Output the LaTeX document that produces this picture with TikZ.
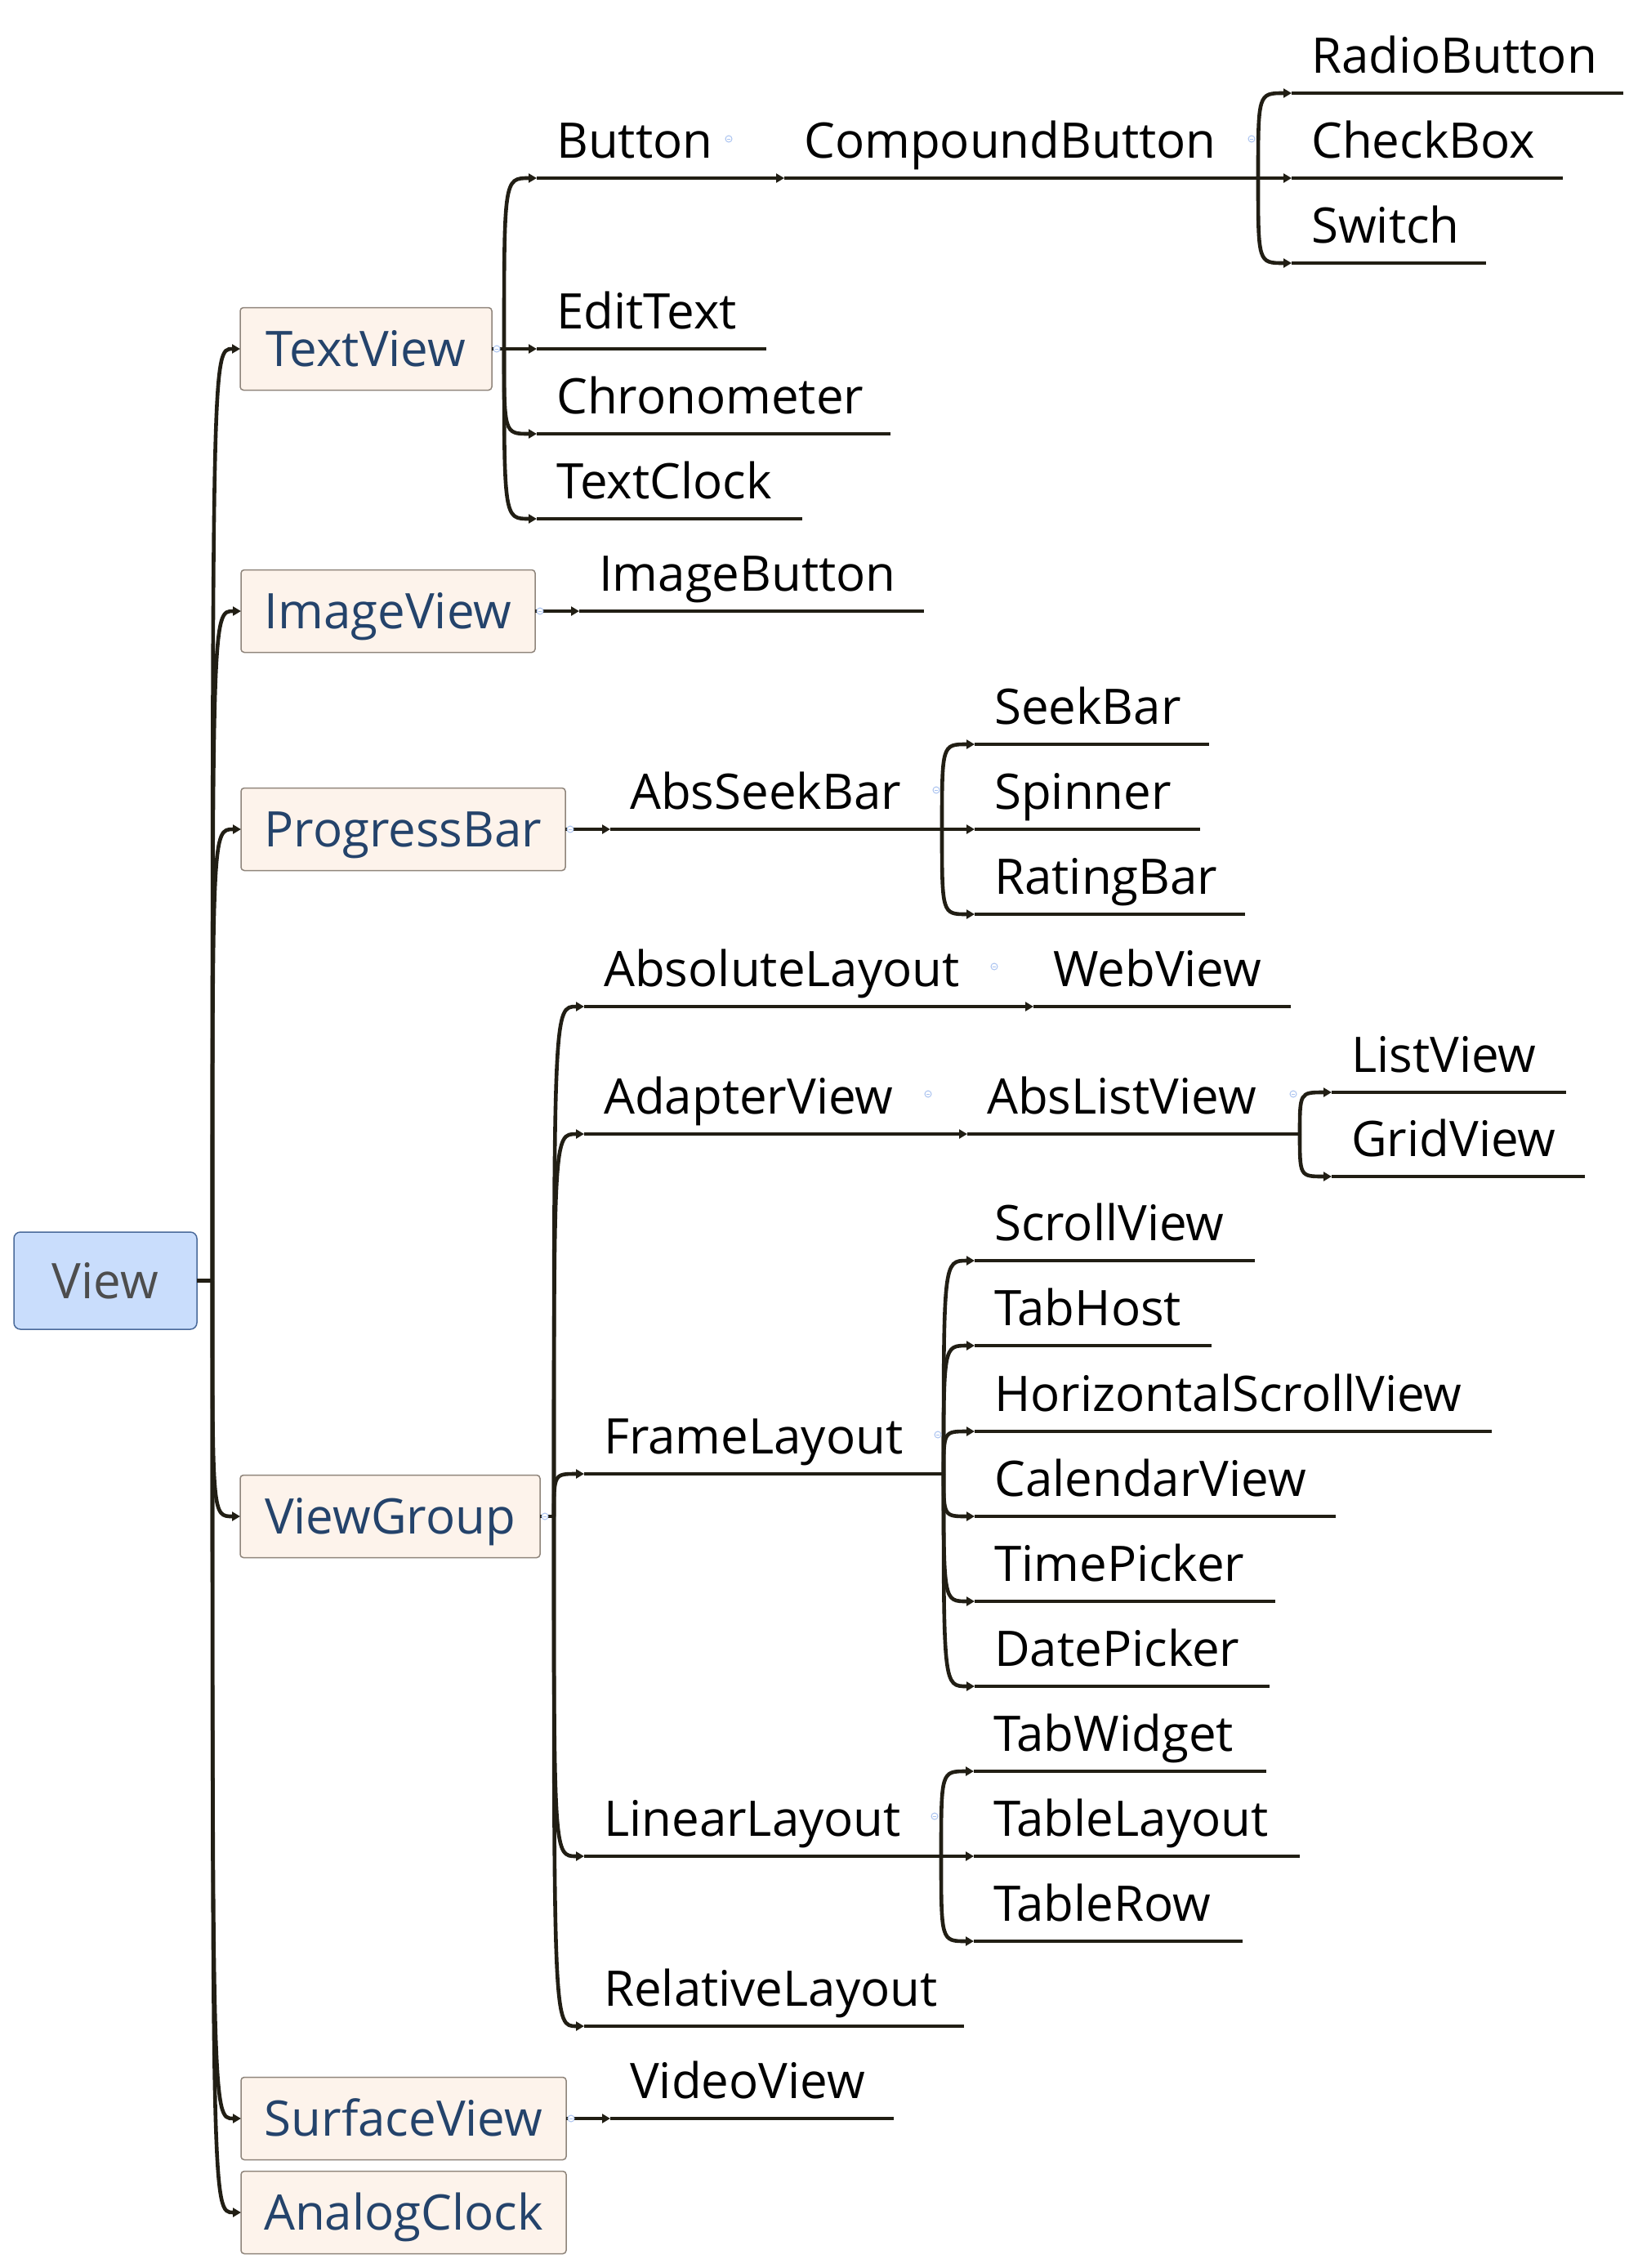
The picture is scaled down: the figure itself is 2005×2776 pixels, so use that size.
\documentclass[tikz,border=0pt]{standalone}
\usepackage{fontspec}
\setmainfont{Open Sans}
\usetikzlibrary{arrows.meta,calc}
\definecolor{linec}{RGB}{33,30,20}
\definecolor{boxfill}{RGB}{253,243,235}
\definecolor{boxdraw}{RGB}{143,133,123}
\definecolor{boxtext}{RGB}{36,67,107}
\definecolor{rootfill}{RGB}{201,221,252}
\definecolor{rootdraw}{RGB}{74,106,155}
\definecolor{roottext}{RGB}{77,77,77}
\definecolor{markc}{RGB}{170,195,240}
\newcommand\mlab[4]{\coordinate (#1-in) at (#2,#3);\node[lbl] (#1) at (#2+24,#3-25) {#4};}
\newcommand\mleaf[5]{\mlab{#1}{#2}{#3}{#5}\coordinate (#1-end) at (#4,#3);\draw[uline] (#1-in) -- (#1-end);}
\newcommand\mbranch[2]{\foreach \n in {#2} {\draw[conn] (#1) .. controls (#1 |- \n-in) .. (\n-in);}}
\begin{document}
\begin{tikzpicture}[x=1pt,y=-1pt,
  bigfont/.style={font=\fontsize{60}{72}\selectfont},
  lbl/.style={bigfont, anchor=base west, inner sep=0pt, text=black},
  uline/.style={draw=linec, line width=4.6pt},
  conn/.style={draw=linec, line width=4.6pt, -{Triangle[length=10pt,width=11pt]}},
  tbox/.style={bigfont, anchor=west, draw=boxdraw, fill=boxfill, text=boxtext, line width=1.5pt,
    rounded corners=4pt, minimum height=101pt, inner sep=0pt, outer sep=0pt, text height=43.6pt, text depth=0pt},
  vbox/.style={bigfont, draw=rootdraw, fill=rootfill, text=roottext, line width=1.5pt,
    rounded corners=8pt, minimum width=224pt, minimum height=119pt, inner sep=0pt, outer sep=0pt, text height=43.6pt, text depth=0pt},
  collapse/.style={circle, draw=markc, fill=white, line width=1pt, minimum size=8pt, inner sep=0pt,
    path picture={\draw[markc, line width=0.8pt] ([xshift=-2pt]path picture bounding box.center) -- ([xshift=2pt]path picture bounding box.center);}}
]
\useasboundingbox[fill=white] (0,0) rectangle (2005,2776);

% root and first level
\node[vbox] (View) at (129,1567.5) {View};
\coordinate (root) at (260,1567.5);
\node[tbox, minimum width=308pt] (TextView) at (294,427) {TextView};
\node[tbox, minimum width=360pt] (ImageView) at (295,748) {ImageView};
\node[tbox, minimum width=397pt] (ProgressBar) at (295,1015) {ProgressBar};
\node[tbox, minimum width=367pt] (ViewGroup) at (294,1856) {ViewGroup};
\node[tbox, minimum width=398pt] (SurfaceView) at (295,2593) {SurfaceView};
\node[tbox, minimum width=398pt] (AnalogClock) at (295,2708) {AnalogClock};
\draw[uline] (View.east) -- (root);
\foreach \n in {TextView,ImageView,ProgressBar,ViewGroup,SurfaceView,AnalogClock}
  {\draw[conn] (root) .. controls (root |- \n.west) .. (\n.west);}

% TextView
\coordinate (tvbar) at (617,427);
\draw[uline] (TextView.east) -- (tvbar);
\mlab{Button}{657}{218}{Button}
\mleaf{EditText}{657}{427}{938}{EditText}
\mleaf{Chronometer}{657}{531}{1090}{Chronometer}
\mleaf{TextClock}{657}{635}{982}{TextClock}
\mbranch{tvbar}{Button,EditText,Chronometer,TextClock}
\mlab{CompoundButton}{960}{218}{CompoundButton}
\draw[conn] (Button-in) -- (CompoundButton-in);
\coordinate (cbbar) at (1540,218);
\draw[uline] (CompoundButton-in) -- (cbbar);
\mleaf{RadioButton}{1581}{114}{1987}{RadioButton}
\mleaf{CheckBox}{1581}{218}{1913}{CheckBox}
\mleaf{Switch}{1581}{322}{1819}{Switch}
\mbranch{cbbar}{RadioButton,CheckBox,Switch}

% ImageView
\mleaf{ImageButton}{709}{748}{1131}{ImageButton}
\draw[conn] (ImageView.east) -- (ImageButton-in);

% ProgressBar
\mlab{AbsSeekBar}{747}{1015}{AbsSeekBar}
\draw[conn] (ProgressBar.east) -- (AbsSeekBar-in);
\coordinate (asbar) at (1153,1015);
\draw[uline] (AbsSeekBar-in) -- (asbar);
\mleaf{SeekBar}{1193}{911}{1480}{SeekBar}
\mleaf{Spinner}{1193}{1015}{1469}{Spinner}
\mleaf{RatingBar}{1193}{1119}{1524}{RatingBar}
\mbranch{asbar}{SeekBar,Spinner,RatingBar}

% ViewGroup
\coordinate (vgbar) at (678,1856);
\draw[uline] (ViewGroup.east) -- (vgbar);
\mlab{AbsoluteLayout}{715}{1232}{AbsoluteLayout}
\mleaf{WebView}{1265}{1232}{1580}{WebView}
\draw[conn] (AbsoluteLayout-in) -- (WebView-in);
\mlab{AdapterView}{715}{1388}{AdapterView}
\mlab{AbsListView}{1184}{1388}{AbsListView}
\draw[conn] (AdapterView-in) -- (AbsListView-in);
\coordinate (alvbar) at (1591,1388);
\draw[uline] (AbsListView-in) -- (alvbar);
\mleaf{ListView}{1630}{1337}{1917}{ListView}
\mleaf{GridView}{1630}{1440}{1940}{GridView}
\mbranch{alvbar}{ListView,GridView}
\mlab{FrameLayout}{715}{1804}{FrameLayout}
\coordinate (flbar) at (1155,1804);
\draw[uline] (FrameLayout-in) -- (flbar);
\mleaf{ScrollView}{1193}{1543}{1536}{ScrollView}
\mleaf{TabHost}{1193}{1647}{1483}{TabHost}
\mleaf{HorizontalScrollView}{1193}{1752}{1826}{HorizontalScrollView}
\mleaf{CalendarView}{1193}{1856}{1635}{CalendarView}
\mleaf{TimePicker}{1193}{1960}{1561}{TimePicker}
\mleaf{DatePicker}{1193}{2064}{1554}{DatePicker}
\mbranch{flbar}{ScrollView,TabHost,HorizontalScrollView,CalendarView,TimePicker,DatePicker}
\mlab{LinearLayout}{715}{2272}{LinearLayout}
\coordinate (llbar) at (1152,2272);
\draw[uline] (LinearLayout-in) -- (llbar);
\mleaf{TabWidget}{1192}{2168}{1550}{TabWidget}
\mleaf{TableLayout}{1192}{2272}{1591}{TableLayout}
\mleaf{TableRow}{1192}{2376}{1521}{TableRow}
\mbranch{llbar}{TabWidget,TableLayout,TableRow}
\mleaf{RelativeLayout}{715}{2480}{1180}{RelativeLayout}
\mbranch{vgbar}{AbsoluteLayout,AdapterView,FrameLayout,LinearLayout,RelativeLayout}

% SurfaceView
\mleaf{VideoView}{747}{2593}{1094}{VideoView}
\draw[conn] (SurfaceView.east) -- (VideoView-in);

% collapse markers
\node[collapse] (mTextView) at (608,427) {};
\node[collapse] (mImageView) at (661,748) {};
\node[collapse] (mProgressBar) at (698,1015) {};
\node[collapse] (mViewGroup) at (667,1856) {};
\node[collapse] (mSurfaceView) at (699,2593) {};
\node[collapse] (mButton) at (892,170) {};
\node[collapse] (mCompoundButton) at (1532,170) {};
\node[collapse] (mAbsSeekBar) at (1146,967) {};
\node[collapse] (mAbsoluteLayout) at (1217,1183) {};
\node[collapse] (mAdapterView) at (1136,1339) {};
\node[collapse] (mAbsListView) at (1583,1339) {};
\node[collapse] (mFrameLayout) at (1148,1756) {};
\node[collapse] (mLinearLayout) at (1144,2223) {};
\end{tikzpicture}
\end{document}
